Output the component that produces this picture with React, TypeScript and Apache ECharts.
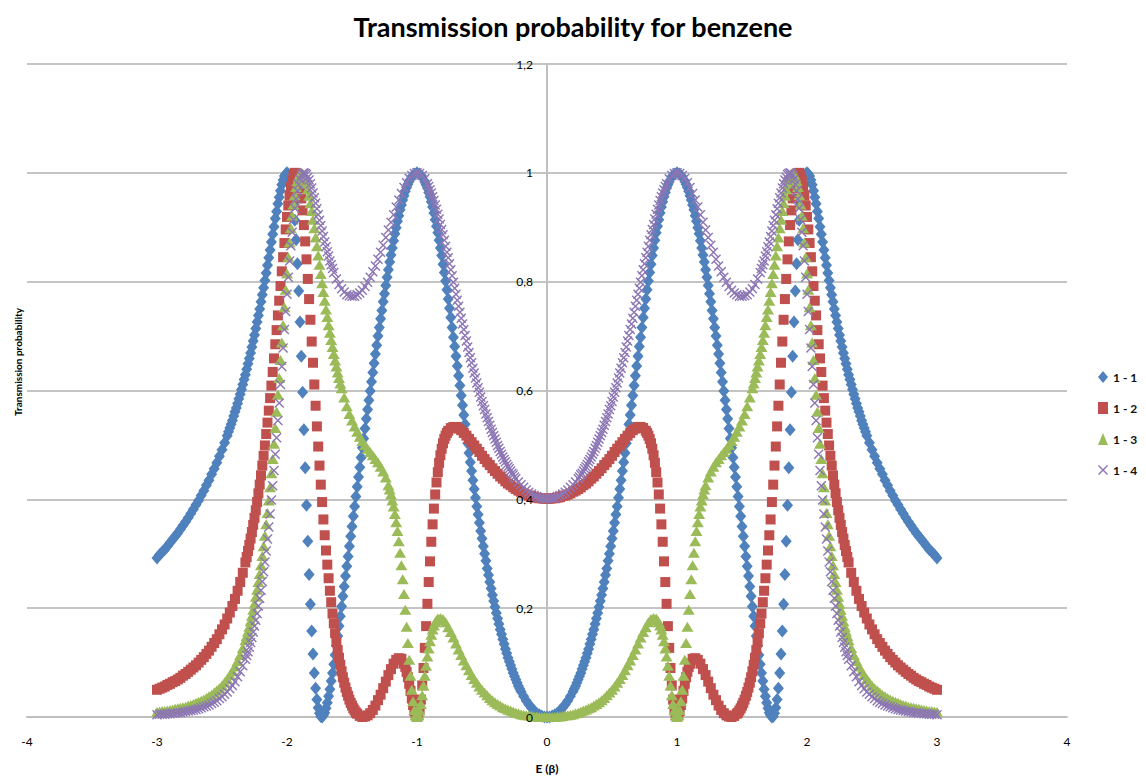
import React, { useEffect, useRef } from "react";
import * as echarts from "echarts";

// Energy grid (E in units of beta)
const energies = [
  -3.00,
  -2.98, -2.96, -2.94, -2.92, -2.90, -2.88, -2.86, -2.84, -2.82, -2.80,
  -2.78, -2.76, -2.74, -2.72, -2.70, -2.68, -2.66, -2.64, -2.62, -2.60,
  -2.58, -2.56, -2.54, -2.52, -2.50, -2.48, -2.46, -2.44, -2.42, -2.40,
  -2.38, -2.36, -2.34, -2.32, -2.30, -2.28, -2.26, -2.24, -2.22, -2.20,
  -2.18, -2.16, -2.14, -2.12, -2.10, -2.08, -2.06, -2.04, -2.02, -2.00,
  -1.98, -1.96, -1.94, -1.92, -1.90, -1.88, -1.86, -1.84, -1.82, -1.80,
  -1.78, -1.76, -1.74, -1.72, -1.70, -1.68, -1.66, -1.64, -1.62, -1.60,
  -1.58, -1.56, -1.54, -1.52, -1.50, -1.48, -1.46, -1.44, -1.42, -1.40,
  -1.38, -1.36, -1.34, -1.32, -1.30, -1.28, -1.26, -1.24, -1.22, -1.20,
  -1.18, -1.16, -1.14, -1.12, -1.10, -1.08, -1.06, -1.04, -1.02, -1.00,
  -0.98, -0.96, -0.94, -0.92, -0.90, -0.88, -0.86, -0.84, -0.82, -0.80,
  -0.78, -0.76, -0.74, -0.72, -0.70, -0.68, -0.66, -0.64, -0.62, -0.60,
  -0.58, -0.56, -0.54, -0.52, -0.50, -0.48, -0.46, -0.44, -0.42, -0.40,
  -0.38, -0.36, -0.34, -0.32, -0.30, -0.28, -0.26, -0.24, -0.22, -0.20,
  -0.18, -0.16, -0.14, -0.12, -0.10, -0.08, -0.06, -0.04, -0.02,
  0.00, 0.02, 0.04, 0.06, 0.08, 0.10, 0.12, 0.14, 0.16, 0.18,
  0.20, 0.22, 0.24, 0.26, 0.28, 0.30, 0.32, 0.34, 0.36, 0.38,
  0.40, 0.42, 0.44, 0.46, 0.48, 0.50, 0.52, 0.54, 0.56, 0.58,
  0.60, 0.62, 0.64, 0.66, 0.68, 0.70, 0.72, 0.74, 0.76, 0.78,
  0.80, 0.82, 0.84, 0.86, 0.88, 0.90, 0.92, 0.94, 0.96, 0.98,
  1.00, 1.02, 1.04, 1.06, 1.08, 1.10, 1.12, 1.14, 1.16, 1.18,
  1.20, 1.22, 1.24, 1.26, 1.28, 1.30, 1.32, 1.34, 1.36, 1.38,
  1.40, 1.42, 1.44, 1.46, 1.48, 1.50, 1.52, 1.54, 1.56, 1.58,
  1.60, 1.62, 1.64, 1.66, 1.68, 1.70, 1.72, 1.74, 1.76, 1.78,
  1.80, 1.82, 1.84, 1.86, 1.88, 1.90, 1.92, 1.94, 1.96, 1.98,
  2.00, 2.02, 2.04, 2.06, 2.08, 2.10, 2.12, 2.14, 2.16, 2.18,
  2.20, 2.22, 2.24, 2.26, 2.28, 2.30, 2.32, 2.34, 2.36, 2.38,
  2.40, 2.42, 2.44, 2.46, 2.48, 2.50, 2.52, 2.54, 2.56, 2.58,
  2.60, 2.62, 2.64, 2.66, 2.68, 2.70, 2.72, 2.74, 2.76, 2.78,
  2.80, 2.82, 2.84, 2.86, 2.88, 2.90, 2.92, 2.94, 2.96, 2.98,
  3.00,
];

// Series 1 - 1
const t11 = [
  0.292,
  0.298, 0.303, 0.308, 0.314, 0.320, 0.326, 0.332, 0.338, 0.345, 0.352,
  0.359, 0.366, 0.374, 0.382, 0.390, 0.398, 0.407, 0.416, 0.426, 0.435,
  0.446, 0.456, 0.467, 0.479, 0.491, 0.504, 0.517, 0.531, 0.545, 0.561,
  0.576, 0.593, 0.611, 0.629, 0.649, 0.669, 0.691, 0.714, 0.738, 0.763,
  0.789, 0.816, 0.844, 0.873, 0.901, 0.929, 0.955, 0.978, 0.994, 1.000,
  0.992, 0.965, 0.913, 0.833, 0.726, 0.597, 0.458, 0.323, 0.207, 0.116,
  0.053, 0.017, 0.001, 0.003, 0.016, 0.038, 0.066, 0.097, 0.131, 0.167,
  0.203, 0.240, 0.277, 0.314, 0.350, 0.387, 0.423, 0.459, 0.495, 0.530,
  0.565, 0.599, 0.633, 0.667, 0.700, 0.732, 0.763, 0.793, 0.822, 0.849,
  0.875, 0.899, 0.921, 0.941, 0.958, 0.973, 0.985, 0.993, 0.998, 1.000,
  0.998, 0.993, 0.984, 0.972, 0.956, 0.937, 0.914, 0.890, 0.862, 0.832,
  0.801, 0.768, 0.734, 0.698, 0.663, 0.627, 0.591, 0.555, 0.520, 0.485,
  0.452, 0.419, 0.387, 0.357, 0.328, 0.300, 0.273, 0.248, 0.224, 0.202,
  0.181, 0.161, 0.143, 0.125, 0.109, 0.095, 0.081, 0.069, 0.057, 0.047,
  0.038, 0.030, 0.023, 0.017, 0.012, 0.007, 0.004, 0.002, 0.000,
  0.000, 0.000, 0.002, 0.004, 0.007, 0.012, 0.017, 0.023, 0.030, 0.038,
  0.047, 0.057, 0.069, 0.081, 0.095, 0.109, 0.125, 0.143, 0.161, 0.181,
  0.202, 0.224, 0.248, 0.273, 0.300, 0.328, 0.357, 0.387, 0.419, 0.452,
  0.485, 0.520, 0.555, 0.591, 0.627, 0.663, 0.698, 0.734, 0.768, 0.801,
  0.832, 0.862, 0.890, 0.914, 0.937, 0.956, 0.972, 0.984, 0.993, 0.998,
  1.000, 0.998, 0.993, 0.985, 0.973, 0.958, 0.941, 0.921, 0.899, 0.875,
  0.849, 0.822, 0.793, 0.763, 0.732, 0.700, 0.667, 0.633, 0.599, 0.565,
  0.530, 0.495, 0.459, 0.423, 0.387, 0.350, 0.314, 0.277, 0.240, 0.203,
  0.167, 0.131, 0.097, 0.066, 0.038, 0.016, 0.003, 0.001, 0.017, 0.053,
  0.116, 0.207, 0.323, 0.458, 0.597, 0.726, 0.833, 0.913, 0.965, 0.992,
  1.000, 0.994, 0.978, 0.955, 0.929, 0.901, 0.873, 0.844, 0.816, 0.789,
  0.763, 0.738, 0.714, 0.691, 0.669, 0.649, 0.629, 0.611, 0.593, 0.576,
  0.561, 0.545, 0.531, 0.517, 0.504, 0.491, 0.479, 0.467, 0.456, 0.446,
  0.435, 0.426, 0.416, 0.407, 0.398, 0.390, 0.382, 0.374, 0.366, 0.359,
  0.352, 0.345, 0.338, 0.332, 0.326, 0.320, 0.314, 0.308, 0.303, 0.298,
  0.292,
];

// Series 1 - 2
const t12 = [
  0.050,
  0.052, 0.054, 0.056, 0.059, 0.061, 0.064, 0.066, 0.069, 0.072, 0.076,
  0.079, 0.083, 0.087, 0.091, 0.095, 0.100, 0.105, 0.110, 0.116, 0.122,
  0.129, 0.136, 0.143, 0.152, 0.161, 0.170, 0.181, 0.192, 0.204, 0.217,
  0.232, 0.248, 0.265, 0.284, 0.305, 0.328, 0.353, 0.380, 0.411, 0.444,
  0.480, 0.520, 0.563, 0.609, 0.659, 0.711, 0.765, 0.819, 0.871, 0.919,
  0.958, 0.986, 1.000, 0.995, 0.972, 0.931, 0.874, 0.805, 0.730, 0.651,
  0.572, 0.497, 0.427, 0.363, 0.306, 0.255, 0.211, 0.172, 0.138, 0.109,
  0.084, 0.063, 0.046, 0.032, 0.021, 0.012, 0.006, 0.002, 0.000, 0.001,
  0.003, 0.007, 0.013, 0.021, 0.031, 0.041, 0.053, 0.065, 0.077, 0.088,
  0.098, 0.105, 0.108, 0.107, 0.098, 0.083, 0.061, 0.034, 0.011, 0.000,
  0.014, 0.058, 0.127, 0.208, 0.286, 0.354, 0.409, 0.450, 0.481, 0.503,
  0.517, 0.526, 0.531, 0.533, 0.533, 0.530, 0.527, 0.522, 0.517, 0.511,
  0.505, 0.499, 0.493, 0.487, 0.480, 0.474, 0.468, 0.463, 0.457, 0.452,
  0.447, 0.442, 0.438, 0.433, 0.429, 0.426, 0.422, 0.419, 0.416, 0.414,
  0.411, 0.409, 0.407, 0.406, 0.404, 0.403, 0.402, 0.402, 0.401,
  0.401, 0.401, 0.402, 0.402, 0.403, 0.404, 0.406, 0.407, 0.409, 0.411,
  0.414, 0.416, 0.419, 0.422, 0.426, 0.429, 0.433, 0.438, 0.442, 0.447,
  0.452, 0.457, 0.463, 0.468, 0.474, 0.480, 0.487, 0.493, 0.499, 0.505,
  0.511, 0.517, 0.522, 0.527, 0.530, 0.533, 0.533, 0.531, 0.526, 0.517,
  0.503, 0.481, 0.450, 0.409, 0.354, 0.286, 0.208, 0.127, 0.058, 0.014,
  0.000, 0.011, 0.034, 0.061, 0.083, 0.098, 0.107, 0.108, 0.105, 0.098,
  0.088, 0.077, 0.065, 0.053, 0.041, 0.031, 0.021, 0.013, 0.007, 0.003,
  0.001, 0.000, 0.002, 0.006, 0.012, 0.021, 0.032, 0.046, 0.063, 0.084,
  0.109, 0.138, 0.172, 0.211, 0.255, 0.306, 0.363, 0.427, 0.497, 0.572,
  0.651, 0.730, 0.805, 0.874, 0.931, 0.972, 0.995, 1.000, 0.986, 0.958,
  0.919, 0.871, 0.819, 0.765, 0.711, 0.659, 0.609, 0.563, 0.520, 0.480,
  0.444, 0.411, 0.380, 0.353, 0.328, 0.305, 0.284, 0.265, 0.248, 0.232,
  0.217, 0.204, 0.192, 0.181, 0.170, 0.161, 0.152, 0.143, 0.136, 0.129,
  0.122, 0.116, 0.110, 0.105, 0.100, 0.095, 0.091, 0.087, 0.083, 0.079,
  0.076, 0.072, 0.069, 0.066, 0.064, 0.061, 0.059, 0.056, 0.054, 0.052,
  0.050,
];

// Series 1 - 3
const t13 = [
  0.009,
  0.010, 0.011, 0.011, 0.012, 0.013, 0.014, 0.015, 0.016, 0.017, 0.018,
  0.019, 0.021, 0.022, 0.024, 0.026, 0.028, 0.030, 0.032, 0.035, 0.038,
  0.041, 0.045, 0.049, 0.053, 0.058, 0.064, 0.070, 0.077, 0.084, 0.093,
  0.103, 0.114, 0.127, 0.141, 0.157, 0.176, 0.197, 0.221, 0.248, 0.279,
  0.314, 0.354, 0.398, 0.448, 0.502, 0.561, 0.623, 0.688, 0.753, 0.815,
  0.872, 0.921, 0.959, 0.985, 0.998, 0.999, 0.989, 0.970, 0.944, 0.914,
  0.881, 0.848, 0.814, 0.781, 0.749, 0.720, 0.693, 0.667, 0.644, 0.623,
  0.604, 0.587, 0.571, 0.557, 0.545, 0.534, 0.524, 0.515, 0.507, 0.500,
  0.493, 0.487, 0.481, 0.474, 0.468, 0.460, 0.451, 0.440, 0.426, 0.409,
  0.387, 0.358, 0.323, 0.279, 0.226, 0.166, 0.105, 0.050, 0.013, 0.000,
  0.012, 0.040, 0.076, 0.111, 0.139, 0.161, 0.174, 0.181, 0.182, 0.180,
  0.174, 0.165, 0.156, 0.146, 0.135, 0.124, 0.114, 0.104, 0.095, 0.086,
  0.077, 0.070, 0.063, 0.056, 0.050, 0.045, 0.040, 0.035, 0.031, 0.027,
  0.024, 0.021, 0.018, 0.016, 0.014, 0.012, 0.010, 0.008, 0.007, 0.005,
  0.004, 0.003, 0.003, 0.002, 0.001, 0.001, 0.000, 0.000, 0.000,
  0.000, 0.000, 0.000, 0.000, 0.001, 0.001, 0.002, 0.003, 0.003, 0.004,
  0.005, 0.007, 0.008, 0.010, 0.012, 0.014, 0.016, 0.018, 0.021, 0.024,
  0.027, 0.031, 0.035, 0.040, 0.045, 0.050, 0.056, 0.063, 0.070, 0.077,
  0.086, 0.095, 0.104, 0.114, 0.124, 0.135, 0.146, 0.156, 0.165, 0.174,
  0.180, 0.182, 0.181, 0.174, 0.161, 0.139, 0.111, 0.076, 0.040, 0.012,
  0.000, 0.013, 0.050, 0.105, 0.166, 0.226, 0.279, 0.323, 0.358, 0.387,
  0.409, 0.426, 0.440, 0.451, 0.460, 0.468, 0.474, 0.481, 0.487, 0.493,
  0.500, 0.507, 0.515, 0.524, 0.534, 0.545, 0.557, 0.571, 0.587, 0.604,
  0.623, 0.644, 0.667, 0.693, 0.720, 0.749, 0.781, 0.814, 0.848, 0.881,
  0.914, 0.944, 0.970, 0.989, 0.999, 0.998, 0.985, 0.959, 0.921, 0.872,
  0.815, 0.753, 0.688, 0.623, 0.561, 0.502, 0.448, 0.398, 0.354, 0.314,
  0.279, 0.248, 0.221, 0.197, 0.176, 0.157, 0.141, 0.127, 0.114, 0.103,
  0.093, 0.084, 0.077, 0.070, 0.064, 0.058, 0.053, 0.049, 0.045, 0.041,
  0.038, 0.035, 0.032, 0.030, 0.028, 0.026, 0.024, 0.022, 0.021, 0.019,
  0.018, 0.017, 0.016, 0.015, 0.014, 0.013, 0.012, 0.011, 0.011, 0.010,
  0.009,
];

// Series 1 - 4
const t14 = [
  0.004,
  0.005, 0.005, 0.005, 0.006, 0.006, 0.007, 0.007, 0.008, 0.008, 0.009,
  0.010, 0.011, 0.012, 0.013, 0.014, 0.015, 0.017, 0.019, 0.020, 0.022,
  0.025, 0.027, 0.030, 0.034, 0.037, 0.042, 0.046, 0.052, 0.058, 0.065,
  0.074, 0.083, 0.094, 0.106, 0.120, 0.137, 0.156, 0.178, 0.204, 0.233,
  0.267, 0.305, 0.349, 0.399, 0.453, 0.513, 0.577, 0.644, 0.712, 0.777,
  0.838, 0.891, 0.935, 0.967, 0.988, 0.999, 0.999, 0.992, 0.980, 0.963,
  0.944, 0.923, 0.903, 0.883, 0.864, 0.847, 0.831, 0.817, 0.805, 0.795,
  0.787, 0.781, 0.776, 0.774, 0.773, 0.773, 0.776, 0.779, 0.784, 0.791,
  0.799, 0.808, 0.818, 0.829, 0.841, 0.854, 0.867, 0.881, 0.895, 0.909,
  0.923, 0.937, 0.950, 0.962, 0.973, 0.982, 0.990, 0.995, 0.999, 1.000,
  0.999, 0.995, 0.989, 0.980, 0.969, 0.956, 0.941, 0.924, 0.905, 0.886,
  0.865, 0.844, 0.822, 0.799, 0.777, 0.755, 0.733, 0.712, 0.691, 0.670,
  0.651, 0.632, 0.614, 0.597, 0.580, 0.565, 0.550, 0.536, 0.523, 0.511,
  0.499, 0.488, 0.478, 0.469, 0.460, 0.452, 0.445, 0.438, 0.432, 0.427,
  0.422, 0.417, 0.413, 0.410, 0.407, 0.405, 0.403, 0.402, 0.401,
  0.401, 0.401, 0.402, 0.403, 0.405, 0.407, 0.410, 0.413, 0.417, 0.422,
  0.427, 0.432, 0.438, 0.445, 0.452, 0.460, 0.469, 0.478, 0.488, 0.499,
  0.511, 0.523, 0.536, 0.550, 0.565, 0.580, 0.597, 0.614, 0.632, 0.651,
  0.670, 0.691, 0.712, 0.733, 0.755, 0.777, 0.799, 0.822, 0.844, 0.865,
  0.886, 0.905, 0.924, 0.941, 0.956, 0.969, 0.980, 0.989, 0.995, 0.999,
  1.000, 0.999, 0.995, 0.990, 0.982, 0.973, 0.962, 0.950, 0.937, 0.923,
  0.909, 0.895, 0.881, 0.867, 0.854, 0.841, 0.829, 0.818, 0.808, 0.799,
  0.791, 0.784, 0.779, 0.776, 0.773, 0.773, 0.774, 0.776, 0.781, 0.787,
  0.795, 0.805, 0.817, 0.831, 0.847, 0.864, 0.883, 0.903, 0.923, 0.944,
  0.963, 0.980, 0.992, 0.999, 0.999, 0.988, 0.967, 0.935, 0.891, 0.838,
  0.777, 0.712, 0.644, 0.577, 0.513, 0.453, 0.399, 0.349, 0.305, 0.267,
  0.233, 0.204, 0.178, 0.156, 0.137, 0.120, 0.106, 0.094, 0.083, 0.074,
  0.065, 0.058, 0.052, 0.046, 0.042, 0.037, 0.034, 0.030, 0.027, 0.025,
  0.022, 0.020, 0.019, 0.017, 0.015, 0.014, 0.013, 0.012, 0.011, 0.010,
  0.009, 0.008, 0.008, 0.007, 0.007, 0.006, 0.006, 0.005, 0.005, 0.005,
  0.004,
];

// Additional read-off points (odd hundredths) on the steep stretches, [E, T]
const fine11 = [
  [-0.21, 0.052], [-0.23, 0.063], [-0.25, 0.075], [-0.27, 0.088], [-0.29, 0.102], [-0.31, 0.117], [-0.33, 0.134], [-0.35, 0.152], [-0.37, 0.171], [-0.39, 0.191],
  [-0.41, 0.213], [-0.43, 0.236], [-0.45, 0.261], [-0.47, 0.287], [-0.49, 0.314], [-0.51, 0.342], [-0.53, 0.372], [-0.55, 0.403], [-0.57, 0.435], [-0.59, 0.468],
  [-0.61, 0.503], [-0.63, 0.538], [-0.65, 0.573], [-0.67, 0.609], [-0.69, 0.645], [-0.71, 0.681], [-0.73, 0.716], [-0.75, 0.751], [-0.77, 0.785], [-0.79, 0.817],
  [-0.81, 0.848], [-0.83, 0.876], [-0.85, 0.902], [-0.87, 0.926], [-0.89, 0.947], [-0.91, 0.964], [-0.93, 0.978],
  [-1.07, 0.979], [-1.09, 0.966], [-1.11, 0.950], [-1.13, 0.932], [-1.15, 0.911], [-1.17, 0.888], [-1.19, 0.862], [-1.21, 0.836], [-1.23, 0.808], [-1.25, 0.778],
  [-1.27, 0.747], [-1.29, 0.716], [-1.31, 0.683], [-1.33, 0.650], [-1.35, 0.616], [-1.37, 0.582], [-1.39, 0.548], [-1.41, 0.512], [-1.43, 0.477], [-1.45, 0.441],
  [-1.47, 0.405], [-1.49, 0.369], [-1.51, 0.332], [-1.53, 0.295], [-1.55, 0.259], [-1.57, 0.222], [-1.59, 0.185], [-1.61, 0.149], [-1.63, 0.114], [-1.65, 0.081],
  [-1.67, 0.051], [-1.69, 0.026], [-1.71, 0.008], [-1.73, 0.000], [-1.75, 0.007], [-1.77, 0.032], [-1.79, 0.081], [-1.81, 0.158], [-1.83, 0.262], [-1.85, 0.389],
  [-1.87, 0.528], [-1.89, 0.663], [-1.91, 0.783], [-1.93, 0.877], [-1.95, 0.942], [-1.97, 0.981], [-1.99, 0.998], [-2.01, 0.998], [-2.03, 0.987], [-2.05, 0.967],
  [-2.07, 0.943], [-2.09, 0.916], [-2.11, 0.887], [-2.13, 0.858], [-2.15, 0.830], [-2.17, 0.802], [-2.19, 0.776], [-2.21, 0.750], [-2.23, 0.726], [-2.25, 0.702],
  [-2.27, 0.680], [-2.29, 0.659], [-2.31, 0.639], [-2.33, 0.620], [-2.35, 0.602], [-2.37, 0.585], [-2.39, 0.568], [-2.41, 0.553], [-2.43, 0.538], [-2.45, 0.524],
  [0.21, 0.052], [0.23, 0.063], [0.25, 0.075], [0.27, 0.088], [0.29, 0.102], [0.31, 0.117], [0.33, 0.134], [0.35, 0.152], [0.37, 0.171], [0.39, 0.191],
  [0.41, 0.213], [0.43, 0.236], [0.45, 0.261], [0.47, 0.287], [0.49, 0.314], [0.51, 0.342], [0.53, 0.372], [0.55, 0.403], [0.57, 0.435], [0.59, 0.468],
  [0.61, 0.503], [0.63, 0.538], [0.65, 0.573], [0.67, 0.609], [0.69, 0.645], [0.71, 0.681], [0.73, 0.716], [0.75, 0.751], [0.77, 0.785], [0.79, 0.817],
  [0.81, 0.848], [0.83, 0.876], [0.85, 0.902], [0.87, 0.926], [0.89, 0.947], [0.91, 0.964], [0.93, 0.978],
  [1.07, 0.979], [1.09, 0.966], [1.11, 0.950], [1.13, 0.932], [1.15, 0.911], [1.17, 0.888], [1.19, 0.862], [1.21, 0.836], [1.23, 0.808], [1.25, 0.778],
  [1.27, 0.747], [1.29, 0.716], [1.31, 0.683], [1.33, 0.650], [1.35, 0.616], [1.37, 0.582], [1.39, 0.548], [1.41, 0.512], [1.43, 0.477], [1.45, 0.441],
  [1.47, 0.405], [1.49, 0.369], [1.51, 0.332], [1.53, 0.295], [1.55, 0.259], [1.57, 0.222], [1.59, 0.185], [1.61, 0.149], [1.63, 0.114], [1.65, 0.081],
  [1.67, 0.051], [1.69, 0.026], [1.71, 0.008], [1.73, 0.000], [1.75, 0.007], [1.77, 0.032], [1.79, 0.081], [1.81, 0.158], [1.83, 0.262], [1.85, 0.389],
  [1.87, 0.528], [1.89, 0.663], [1.91, 0.783], [1.93, 0.877], [1.95, 0.942], [1.97, 0.981], [1.99, 0.998], [2.01, 0.998], [2.03, 0.987], [2.05, 0.967],
  [2.07, 0.943], [2.09, 0.916], [2.11, 0.887], [2.13, 0.858], [2.15, 0.830], [2.17, 0.802], [2.19, 0.776], [2.21, 0.750], [2.23, 0.726], [2.25, 0.702],
  [2.27, 0.680], [2.29, 0.659], [2.31, 0.639], [2.33, 0.620], [2.35, 0.602], [2.37, 0.585], [2.39, 0.568], [2.41, 0.553], [2.43, 0.538], [2.45, 0.524],
];

const fine12 = [
  [-0.77, 0.522], [-0.79, 0.511], [-0.81, 0.493], [-0.83, 0.467], [-0.85, 0.431], [-0.87, 0.383], [-0.89, 0.322], [-0.91, 0.248], [-0.93, 0.167], [-0.95, 0.090],
  [-0.97, 0.032], [-0.99, 0.003], [-1.01, 0.003], [-1.03, 0.022], [-1.05, 0.048], [-1.07, 0.073], [-1.09, 0.092],
  [-1.47, 0.008], [-1.49, 0.016], [-1.51, 0.026], [-1.53, 0.039], [-1.55, 0.054], [-1.57, 0.073], [-1.59, 0.096], [-1.61, 0.123], [-1.63, 0.154], [-1.65, 0.190],
  [-1.67, 0.232], [-1.69, 0.280], [-1.71, 0.334], [-1.73, 0.395], [-1.75, 0.462], [-1.77, 0.534], [-1.79, 0.611], [-1.81, 0.690], [-1.83, 0.768], [-1.85, 0.841],
  [-1.87, 0.904], [-1.89, 0.953], [-1.91, 0.986], [-1.93, 0.999], [-1.95, 0.995], [-1.97, 0.974], [-1.99, 0.940], [-2.01, 0.896], [-2.03, 0.845], [-2.05, 0.792],
  [-2.07, 0.738], [-2.09, 0.685], [-2.11, 0.634], [-2.13, 0.586], [-2.15, 0.541], [-2.17, 0.499], [-2.19, 0.462], [-2.21, 0.427], [-2.23, 0.395], [-2.25, 0.366],
  [-2.27, 0.340], [-2.29, 0.316], [-2.31, 0.294],
  [0.77, 0.522], [0.79, 0.511], [0.81, 0.493], [0.83, 0.467], [0.85, 0.431], [0.87, 0.383], [0.89, 0.322], [0.91, 0.248], [0.93, 0.167], [0.95, 0.090],
  [0.97, 0.032], [0.99, 0.003], [1.01, 0.003], [1.03, 0.022], [1.05, 0.048], [1.07, 0.073], [1.09, 0.092],
  [1.47, 0.008], [1.49, 0.016], [1.51, 0.026], [1.53, 0.039], [1.55, 0.054], [1.57, 0.073], [1.59, 0.096], [1.61, 0.123], [1.63, 0.154], [1.65, 0.190],
  [1.67, 0.232], [1.69, 0.280], [1.71, 0.334], [1.73, 0.395], [1.75, 0.462], [1.77, 0.534], [1.79, 0.611], [1.81, 0.690], [1.83, 0.768], [1.85, 0.841],
  [1.87, 0.904], [1.89, 0.953], [1.91, 0.986], [1.93, 0.999], [1.95, 0.995], [1.97, 0.974], [1.99, 0.940], [2.01, 0.896], [2.03, 0.845], [2.05, 0.792],
  [2.07, 0.738], [2.09, 0.685], [2.11, 0.634], [2.13, 0.586], [2.15, 0.541], [2.17, 0.499], [2.19, 0.462], [2.21, 0.427], [2.23, 0.395], [2.25, 0.366],
  [2.27, 0.340], [2.29, 0.316], [2.31, 0.294],
];

const fine13 = [
  [-0.85, 0.178], [-0.87, 0.168], [-0.89, 0.151], [-0.91, 0.126], [-0.93, 0.094], [-0.95, 0.058], [-0.97, 0.024], [-0.99, 0.003],
  [-1.01, 0.003], [-1.03, 0.029], [-1.05, 0.076], [-1.07, 0.136], [-1.09, 0.197], [-1.11, 0.253], [-1.13, 0.302], [-1.15, 0.342], [-1.17, 0.373], [-1.19, 0.398], [-1.21, 0.418],
  [-1.59, 0.613], [-1.61, 0.633], [-1.63, 0.655], [-1.65, 0.680], [-1.67, 0.706], [-1.69, 0.735], [-1.71, 0.765], [-1.73, 0.797], [-1.75, 0.831], [-1.77, 0.865],
  [-1.79, 0.898], [-1.81, 0.930], [-1.83, 0.958], [-1.85, 0.980], [-1.87, 0.995], [-1.89, 1.000], [-1.91, 0.993], [-1.93, 0.974], [-1.95, 0.942], [-1.97, 0.898],
  [-1.99, 0.845], [-2.01, 0.785], [-2.03, 0.720], [-2.05, 0.656], [-2.07, 0.592], [-2.09, 0.531], [-2.11, 0.474], [-2.13, 0.422], [-2.15, 0.375], [-2.17, 0.333],
  [-2.19, 0.296], [-2.21, 0.263], [-2.23, 0.234], [-2.25, 0.208], [-2.27, 0.186], [-2.29, 0.166], [-2.31, 0.149],
  [0.85, 0.178], [0.87, 0.168], [0.89, 0.151], [0.91, 0.126], [0.93, 0.094], [0.95, 0.058], [0.97, 0.024], [0.99, 0.003],
  [1.01, 0.003], [1.03, 0.029], [1.05, 0.076], [1.07, 0.136], [1.09, 0.197], [1.11, 0.253], [1.13, 0.302], [1.15, 0.342], [1.17, 0.373], [1.19, 0.398], [1.21, 0.418],
  [1.59, 0.613], [1.61, 0.633], [1.63, 0.655], [1.65, 0.680], [1.67, 0.706], [1.69, 0.735], [1.71, 0.765], [1.73, 0.797], [1.75, 0.831], [1.77, 0.865],
  [1.79, 0.898], [1.81, 0.930], [1.83, 0.958], [1.85, 0.980], [1.87, 0.995], [1.89, 1.000], [1.91, 0.993], [1.93, 0.974], [1.95, 0.942], [1.97, 0.898],
  [1.99, 0.845], [2.01, 0.785], [2.03, 0.720], [2.05, 0.656], [2.07, 0.592], [2.09, 0.531], [2.11, 0.474], [2.13, 0.422], [2.15, 0.375], [2.17, 0.333],
  [2.19, 0.296], [2.21, 0.263], [2.23, 0.234], [2.25, 0.208], [2.27, 0.186], [2.29, 0.166], [2.31, 0.149],
];

const fine14 = [
  [-0.25, 0.441], [-0.27, 0.448], [-0.29, 0.456], [-0.31, 0.464], [-0.33, 0.473], [-0.35, 0.483], [-0.37, 0.494], [-0.39, 0.505], [-0.41, 0.517], [-0.43, 0.529],
  [-0.45, 0.543], [-0.47, 0.557], [-0.49, 0.572], [-0.51, 0.588], [-0.53, 0.605], [-0.55, 0.623], [-0.57, 0.641], [-0.59, 0.660], [-0.61, 0.680], [-0.63, 0.701],
  [-0.65, 0.722], [-0.67, 0.744], [-0.69, 0.766], [-0.71, 0.788], [-0.73, 0.811], [-0.75, 0.833], [-0.77, 0.854], [-0.79, 0.876], [-0.81, 0.896], [-0.83, 0.915],
  [-0.85, 0.933], [-0.87, 0.949], [-0.89, 0.963], [-0.91, 0.975],
  [-1.65, 0.824], [-1.67, 0.838], [-1.69, 0.855], [-1.71, 0.873], [-1.73, 0.893], [-1.75, 0.913], [-1.77, 0.934], [-1.79, 0.954], [-1.81, 0.972], [-1.83, 0.987],
  [-1.85, 0.997], [-1.87, 1.000], [-1.89, 0.995], [-1.91, 0.979], [-1.93, 0.952], [-1.95, 0.914], [-1.97, 0.866], [-1.99, 0.808], [-2.01, 0.745], [-2.03, 0.678],
  [-2.05, 0.611], [-2.07, 0.545], [-2.09, 0.483], [-2.11, 0.425], [-2.13, 0.373], [-2.15, 0.327], [-2.17, 0.285], [-2.19, 0.249], [-2.21, 0.218], [-2.23, 0.190],
  [-2.25, 0.167], [-2.27, 0.146], [-2.29, 0.128], [-2.31, 0.113],
  [0.25, 0.441], [0.27, 0.448], [0.29, 0.456], [0.31, 0.464], [0.33, 0.473], [0.35, 0.483], [0.37, 0.494], [0.39, 0.505], [0.41, 0.517], [0.43, 0.529],
  [0.45, 0.543], [0.47, 0.557], [0.49, 0.572], [0.51, 0.588], [0.53, 0.605], [0.55, 0.623], [0.57, 0.641], [0.59, 0.660], [0.61, 0.680], [0.63, 0.701],
  [0.65, 0.722], [0.67, 0.744], [0.69, 0.766], [0.71, 0.788], [0.73, 0.811], [0.75, 0.833], [0.77, 0.854], [0.79, 0.876], [0.81, 0.896], [0.83, 0.915],
  [0.85, 0.933], [0.87, 0.949], [0.89, 0.963], [0.91, 0.975],
  [1.65, 0.824], [1.67, 0.838], [1.69, 0.855], [1.71, 0.873], [1.73, 0.893], [1.75, 0.913], [1.77, 0.934], [1.79, 0.954], [1.81, 0.972], [1.83, 0.987],
  [1.85, 0.997], [1.87, 1.000], [1.89, 0.995], [1.91, 0.979], [1.93, 0.952], [1.95, 0.914], [1.97, 0.866], [1.99, 0.808], [2.01, 0.745], [2.03, 0.678],
  [2.05, 0.611], [2.07, 0.545], [2.09, 0.483], [2.11, 0.425], [2.13, 0.373], [2.15, 0.327], [2.17, 0.285], [2.19, 0.249], [2.21, 0.218], [2.23, 0.190],
  [2.25, 0.167], [2.27, 0.146], [2.29, 0.128], [2.31, 0.113],
];

const seriesNames = ["1 - 1", "1 - 2", "1 - 3", "1 - 4"];
const seriesColors = ["#4F81BD", "#C0504D", "#9BBB59", "#8C76B4"];

const FONT = "Lato, 'Open Sans', 'Liberation Sans', sans-serif";
const CROSS = "path://M0,1 L1,0 L5,4 L9,0 L10,1 L6,5 L10,9 L9,10 L5,6 L1,10 L0,9 L4,5 Z";
const symbols = ["diamond", "rect", "triangle", CROSS];
const symbolSizes: any[] = [[11, 13], 10, [12, 10], 10];

export default function App() {
  const ref = useRef<HTMLDivElement>(null);

  useEffect(() => {
    document.body.style.margin = "0";
    if (!ref.current) return;
    const chart = echarts.init(ref.current, undefined, { renderer: "svg" });
    const values = [t11, t12, t13, t14];
    const extras = [fine11, fine12, fine13, fine14];

    const option: any = {
      animation: false,
      backgroundColor: "#ffffff",
      textStyle: { fontFamily: FONT },
      title: {
        text: "Transmission probability for benzene",
        left: "center",
        top: 13,
        padding: 0,
        textStyle: { fontFamily: FONT, fontSize: 27, fontWeight: "bold", color: "#000" },
      },
      grid: { left: 27, right: 79, top: 64, bottom: 55, containLabel: false },
      legend: {
        orient: "vertical",
        left: 1098,
        top: 371,
        padding: 0,
        itemWidth: 10,
        itemHeight: 12,
        itemGap: 19,
        selectedMode: false,
        textStyle: { fontFamily: FONT, fontSize: 12, fontWeight: "bold", color: "#111", lineHeight: 12 },
        data: seriesNames.map((n, i) => ({ name: n, icon: symbols[i] })),
      },
      xAxis: {
        type: "value",
        min: -4,
        max: 4,
        interval: 1,
        name: "E (β)",
        nameLocation: "middle",
        nameGap: 45,
        nameTextStyle: { fontFamily: FONT, fontSize: 12, fontWeight: "bold", color: "#000" },
        axisLine: { show: true, onZero: true, lineStyle: { color: "#bfbfbf", width: 2 } },
        axisTick: { show: false },
        splitLine: { show: false },
        axisLabel: { fontFamily: FONT, fontSize: 12, color: "#000", margin: 18 },
      },
      yAxis: [
        {
          type: "value",
          min: 0,
          max: 1.2,
          interval: 0.2,
          axisLine: { show: true, onZero: true, lineStyle: { color: "#bfbfbf", width: 2 } },
          axisTick: { show: false },
          axisLabel: { show: false },
          splitLine: { show: true, lineStyle: { color: "#c4c4c4", width: 2 } },
        },
        {
          type: "value",
          min: 0,
          max: 1.2,
          interval: 0.2,
          position: "left",
          offset: -520,
          z: 10,
          axisLine: { show: false, onZero: false },
          axisTick: { show: false },
          splitLine: { show: false },
          axisLabel: {
            fontFamily: FONT,
            fontSize: 12,
            color: "#000",
            margin: 14,
            formatter: (v: number) => (v === 0 ? "0" : String(Math.round(v * 10) / 10).replace(".", ",")),
          },
        },
      ],
      graphic: [
        {
          type: "text",
          x: 18,
          y: 362,
          rotation: Math.PI / 2,
          style: {
            text: "Transmission probability",
            font: "bold 10px " + FONT,
            fill: "#000",
            textAlign: "center",
            textVerticalAlign: "middle",
            align: "center",
            verticalAlign: "middle",
          },
        },
      ],
      series: seriesNames.map((name, i) => ({
        type: "scatter",
        name,
        yAxisIndex: 0,
        symbol: symbols[i],
        symbolSize: symbolSizes[i],
        silent: true,
        itemStyle: { color: seriesColors[i], opacity: 1 },
        data: energies.map((e, k) => [e, values[i][k]]).concat(extras[i]),
      })),
    };

    chart.setOption(option);
    return () => chart.dispose();
  }, []);

  return <div ref={ref} style={{ width: 1146, height: 779 }} />;
}
